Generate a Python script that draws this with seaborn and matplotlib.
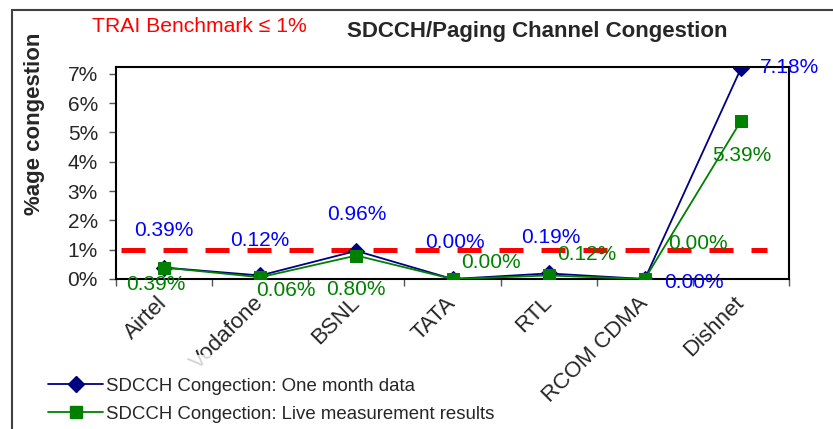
"""
SDCCH / Paging channel congestion per operator, with TRAI benchmark.
"""
import numpy as np
import pandas as pd
import matplotlib
matplotlib.use("Agg")
import matplotlib.pyplot as plt
import matplotlib.transforms as mtransforms
from matplotlib.lines import Line2D
import seaborn as sns

# data (percent)
operators = ["Airtel", "Vodafone", "BSNL", "TATA", "RTL", "RCOM CDMA", "Dishnet"]
one_month = [0.39, 0.12, 0.96, 0.00, 0.19, 0.00, 7.18]
live_meas = [0.39, 0.06, 0.80, 0.00, 0.12, 0.00, 5.39]
benchmark = 1.0
y_ticks = [0, 1, 2, 3, 4, 5, 6, 7]

series_names = ["SDCCH Congection: One month data",
                "SDCCH Congection: Live measurement results"]

# label offsets in pixels (where excel put them)
blue_offsets = [(0, 37), (0, 35), (0, 36), (2, 36), (2, 36), (49, -3), (49, 1)]
green_offsets = [(-8, -17), (26, -13), (0, -34), (38, 16), (38, 21), (53, 35), (1, -35)]

BLUE_LINE = "#000080"
BLUE_TXT = "#0000FF"
GREEN = "#008000"

sns.set_theme(style="white")
plt.rcParams["font.family"] = ["Liberation Sans", "DejaVu Sans"]

fig = plt.figure(figsize=(8.33, 4.29), dpi=100)
ax = fig.add_axes([116 / 833, 1 - 279 / 429, (789 - 116) / 833, (279 - 67) / 429])

x = np.arange(len(operators))
df = pd.DataFrame({"x": x, "one": one_month, "live": live_meas})

sns.lineplot(data=df, x="x", y="one", ax=ax, color=BLUE_LINE, lw=1.3,
             marker="D", markersize=8.5, markeredgecolor=BLUE_LINE,
             label=series_names[0], zorder=3)
sns.lineplot(data=df, x="x", y="live", ax=ax, color=GREEN, lw=1.3,
             marker="s", markersize=8.5, markeredgecolor=GREEN,
             label=series_names[1], zorder=4)

# benchmark line
ax.axhline(benchmark, xmin=0.007, xmax=0.967, color="#FF0000", lw=3.6,
           dashes=(4.8, 3.6), zorder=2)

# data labels
for i in range(len(operators)):
    ax.annotate(f"{one_month[i]:.2f}%", (x[i], one_month[i]),
                xytext=blue_offsets[i], textcoords="offset pixels",
                ha="center", va="center", color=BLUE_TXT, fontsize=15, zorder=5)
    ax.annotate(f"{live_meas[i]:.2f}%", (x[i], live_meas[i]),
                xytext=green_offsets[i], textcoords="offset pixels",
                ha="center", va="center", color=GREEN, fontsize=15, zorder=5)

ax.set_xlim(-0.5, len(operators) - 0.5)
ax.set_ylim(0, 7.23)
ax.set_yticks(y_ticks)
ax.set_yticklabels([f"{t}%" for t in y_ticks], fontsize=15)
ax.set_xticks(x)
ax.set_xticklabels(operators, rotation=45, ha="right", va="center",
                   rotation_mode="anchor", fontsize=16)
shift = mtransforms.ScaledTranslation(-11 / 100, 0, fig.dpi_scale_trans)
for lab in ax.get_xticklabels():
    lab.set_transform(lab.get_transform() + shift)
ax.set_xticks(np.arange(-0.5, len(operators)), minor=True)
ax.tick_params(axis="x", which="major", length=0, pad=15)
ax.tick_params(axis="x", which="minor", length=5, width=1, color="#555555",
               direction="out", bottom=True)
ax.tick_params(axis="y", length=5, width=1, color="#555555", direction="out",
               left=True, pad=8)
ax.set_xlabel("")
ax.set_ylabel("")
for s in ax.spines.values():
    s.set_color("black")
    s.set_linewidth(1.5)
ax.grid(False)
ax.get_legend().remove()

# texts on the chart area
fig.text(35 / 833, 1 - 124 / 429, "%age congestion", rotation=90,
         ha="center", va="center", fontsize=16, fontweight="bold")
fig.text(537 / 833, 1 - 31 / 429, "SDCCH/Paging Channel Congestion",
         ha="center", va="center", fontsize=16, fontweight="bold")
fig.text(92 / 833, 1 - 27 / 429, "TRAI Benchmark \u2264 1%",
         ha="left", va="center", fontsize=15.2, color="#FF0000")

# legend
handles = [Line2D([], [], color=BLUE_LINE, lw=1.3, marker="D", markersize=8.5),
           Line2D([], [], color=GREEN, lw=1.3, marker="s", markersize=8.5)]
leg = fig.legend(handles, series_names, loc="upper left",
                 bbox_to_anchor=(16 / 833, 1 - 346 / 429), fontsize=13.4,
                 handlelength=3.0, handletextpad=0.15, labelspacing=0.6,
                 borderpad=1.2, frameon=True, fancybox=False)
leg.get_frame().set_facecolor("white")
leg.get_frame().set_edgecolor("none")

# chart frame
fig.add_artist(Line2D([12 / 833, 12 / 833], [0, 1 - 10 / 429], color="#404040", lw=1.5))
fig.add_artist(Line2D([12 / 833, 1], [1 - 10 / 429, 1 - 10 / 429], color="#404040", lw=1.5))

fig.savefig("out.png", dpi=100)
